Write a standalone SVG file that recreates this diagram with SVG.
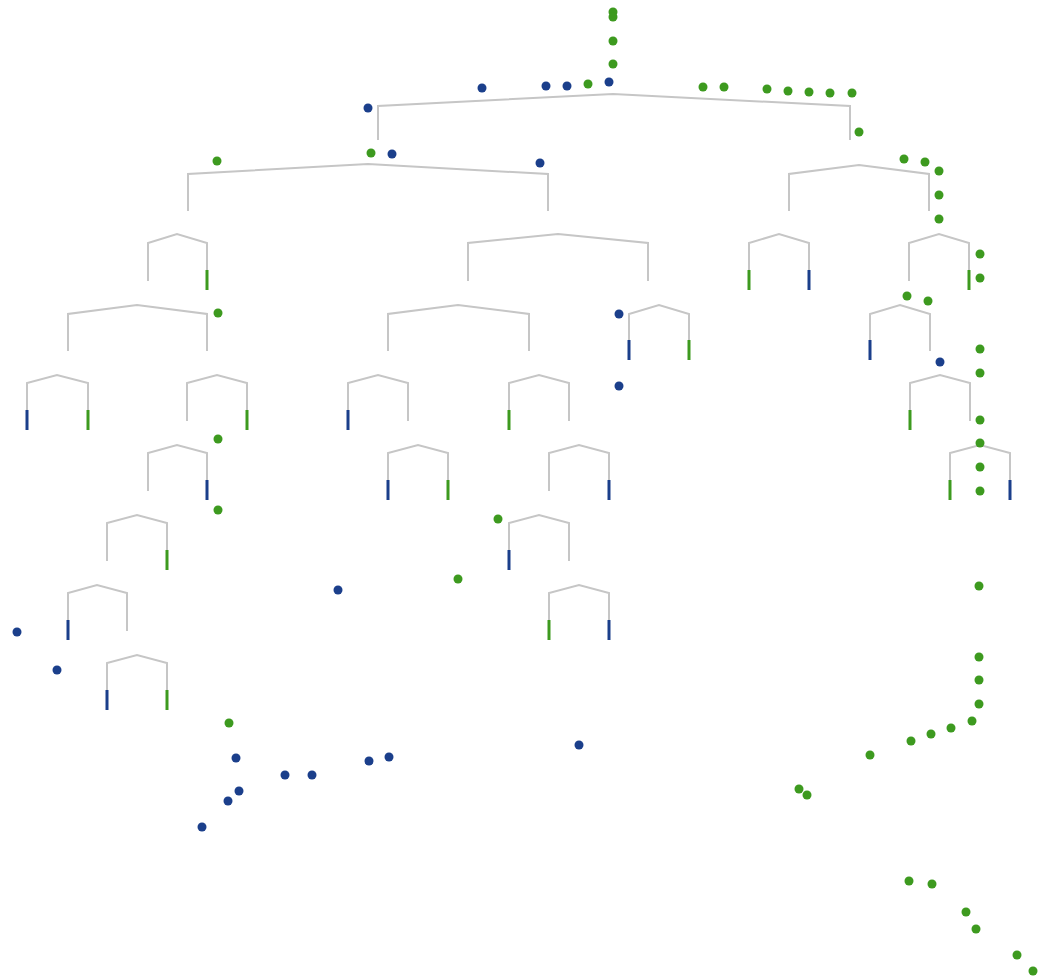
<svg xmlns="http://www.w3.org/2000/svg" width="1050" height="977" viewBox="0 0 1050 977">
<style>
.b{fill:none;stroke:#c6c6c6;stroke-width:2;stroke-linejoin:miter}
.lg{stroke:#3d9a1f;stroke-width:3}
.lb{stroke:#1b3f8b;stroke-width:3}
.g{fill:#3d9a1f}
.u{fill:#1b3f8b}
</style>
<rect width="1050" height="977" fill="#ffffff"/>
<g id="connectors">
<path class="b" d="M378,140V106L613,94L850,106V140"/>
<path class="b" d="M188,211V174L368,164L548,174V211"/>
<path class="b" d="M789,211V174L859,165L929,174V211"/>
<path class="b" d="M148,281V243L177,234L207,243V281"/>
<path class="b" d="M468,281V243L558,234L648,243V281"/>
<path class="b" d="M749,281V243L779,234L809,243V281"/>
<path class="b" d="M909,281V243L939,234L969,243V281"/>
<path class="b" d="M68,351V314L137,305L207,314V351"/>
<path class="b" d="M388,351V314L458,305L529,314V351"/>
<path class="b" d="M629,351V314L659,305L689,314V351"/>
<path class="b" d="M870,351V314L900,305L930,314V351"/>
<path class="b" d="M27,421V383L57,375L88,383V421"/>
<path class="b" d="M187,421V383L217,375L247,383V421"/>
<path class="b" d="M348,421V383L378,375L408,383V421"/>
<path class="b" d="M509,421V383L539,375L569,383V421"/>
<path class="b" d="M910,421V383L940,375L970,383V421"/>
<path class="b" d="M148,491V453L177,445L207,453V491"/>
<path class="b" d="M388,491V453L418,445L448,453V491"/>
<path class="b" d="M549,491V453L579,445L609,453V491"/>
<path class="b" d="M950,491V453L980,445L1010,453V491"/>
<path class="b" d="M107,561V523L137,515L167,523V561"/>
<path class="b" d="M509,561V523L539,515L569,523V561"/>
<path class="b" d="M68,631V593L97,585L127,593V631"/>
<path class="b" d="M549,631V593L579,585L609,593V631"/>
<path class="b" d="M107,701V663L137,655L167,663V701"/>
</g>
<g id="leaves">
<path class="lg" d="M207,270V290"/>
<path class="lg" d="M749,270V290"/>
<path class="lb" d="M809,270V290"/>
<path class="lg" d="M969,270V290"/>
<path class="lb" d="M629,340V360"/>
<path class="lg" d="M689,340V360"/>
<path class="lb" d="M870,340V360"/>
<path class="lb" d="M27,410V430"/>
<path class="lg" d="M88,410V430"/>
<path class="lg" d="M247,410V430"/>
<path class="lb" d="M348,410V430"/>
<path class="lg" d="M509,410V430"/>
<path class="lg" d="M910,410V430"/>
<path class="lb" d="M207,480V500"/>
<path class="lb" d="M388,480V500"/>
<path class="lg" d="M448,480V500"/>
<path class="lb" d="M609,480V500"/>
<path class="lg" d="M950,480V500"/>
<path class="lb" d="M1010,480V500"/>
<path class="lg" d="M167,550V570"/>
<path class="lb" d="M509,550V570"/>
<path class="lb" d="M68,620V640"/>
<path class="lg" d="M549,620V640"/>
<path class="lb" d="M609,620V640"/>
<path class="lb" d="M107,690V710"/>
<path class="lg" d="M167,690V710"/>
</g>
<g id="dots-green" class="g">
<circle cx="613" cy="12" r="4.5"/><circle cx="613" cy="17" r="4.5"/><circle cx="613" cy="41" r="4.5"/><circle cx="613" cy="64" r="4.5"/>
<circle cx="588" cy="84" r="4.5"/>
<circle cx="371" cy="153" r="4.5"/><circle cx="217" cy="161" r="4.5"/>
<circle cx="703" cy="87" r="4.5"/><circle cx="724" cy="87" r="4.5"/><circle cx="767" cy="89" r="4.5"/><circle cx="788" cy="91" r="4.5"/><circle cx="809" cy="92" r="4.5"/><circle cx="830" cy="93" r="4.5"/><circle cx="852" cy="93" r="4.5"/>
<circle cx="859" cy="132" r="4.5"/>
<circle cx="904" cy="159" r="4.5"/><circle cx="925" cy="162" r="4.5"/><circle cx="939" cy="171" r="4.5"/><circle cx="939" cy="195" r="4.5"/><circle cx="939" cy="219" r="4.5"/>
<circle cx="980" cy="254" r="4.5"/><circle cx="980" cy="278" r="4.5"/>
<circle cx="907" cy="296" r="4.5"/><circle cx="928" cy="301" r="4.5"/>
<circle cx="980" cy="349" r="4.5"/><circle cx="980" cy="373" r="4.5"/><circle cx="980" cy="420" r="4.5"/><circle cx="980" cy="443" r="4.5"/><circle cx="980" cy="467" r="4.5"/><circle cx="980" cy="491" r="4.5"/>
<circle cx="218" cy="313" r="4.5"/><circle cx="218" cy="439" r="4.5"/><circle cx="218" cy="510" r="4.5"/>
<circle cx="498" cy="519" r="4.5"/><circle cx="458" cy="579" r="4.5"/>
<circle cx="229" cy="723" r="4.5"/>
<circle cx="979" cy="586" r="4.5"/><circle cx="979" cy="657" r="4.5"/><circle cx="979" cy="680" r="4.5"/><circle cx="979" cy="704" r="4.5"/><circle cx="972" cy="721" r="4.5"/><circle cx="951" cy="728" r="4.5"/><circle cx="931" cy="734" r="4.5"/><circle cx="911" cy="741" r="4.5"/><circle cx="870" cy="755" r="4.5"/><circle cx="799" cy="789" r="4.5"/><circle cx="807" cy="795" r="4.5"/>
<circle cx="909" cy="881" r="4.5"/><circle cx="932" cy="884" r="4.5"/><circle cx="966" cy="912" r="4.5"/><circle cx="976" cy="929" r="4.5"/><circle cx="1017" cy="955" r="4.5"/><circle cx="1033" cy="971" r="4.5"/>
</g>
<g id="dots-blue" class="u">
<circle cx="609" cy="82" r="4.5"/><circle cx="567" cy="86" r="4.5"/><circle cx="546" cy="86" r="4.5"/><circle cx="482" cy="88" r="4.5"/>
<circle cx="368" cy="108" r="4.5"/><circle cx="392" cy="154" r="4.5"/><circle cx="540" cy="163" r="4.5"/>
<circle cx="940" cy="362" r="4.5"/>
<circle cx="619" cy="314" r="4.5"/><circle cx="619" cy="386" r="4.5"/>
<circle cx="338" cy="590" r="4.5"/><circle cx="17" cy="632" r="4.5"/><circle cx="57" cy="670" r="4.5"/>
<circle cx="236" cy="758" r="4.5"/><circle cx="239" cy="791" r="4.5"/><circle cx="228" cy="801" r="4.5"/><circle cx="202" cy="827" r="4.5"/>
<circle cx="285" cy="775" r="4.5"/><circle cx="312" cy="775" r="4.5"/><circle cx="369" cy="761" r="4.5"/><circle cx="389" cy="757" r="4.5"/><circle cx="579" cy="745" r="4.5"/>
</g>
</svg>
